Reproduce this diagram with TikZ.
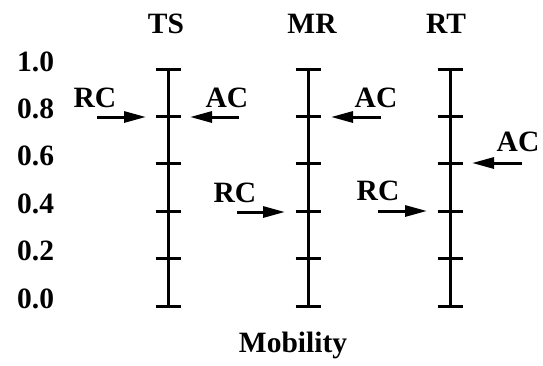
\documentclass[tikz,border=0pt]{standalone}
\usepackage{fontspec}
\setmainfont{Liberation Serif}
\usetikzlibrary{arrows.meta}
\begin{document}
\begin{tikzpicture}[x=1pt,y=-1pt,
  lbl/.style={font=\bfseries\fontsize{29.5}{29.5}\selectfont, inner sep=0pt, anchor=base},
  vlbl/.style={lbl, anchor=base west},
  axisline/.style={line width=3pt},
  arr/.style={line width=3pt, -{Triangle[length=22pt,width=11pt]}}]
\useasboundingbox (0,0) rectangle (543,365);
% value labels
\foreach \k/\v in {0/0.0,1/0.2,2/0.4,3/0.6,4/0.8,5/1.0}
  \node[vlbl] (v\k) at (17,{308-47.4*\k}) {\v};
% axes with ticks
\foreach \n/\x in {TS/168,MR/308,RT/450}{
  \coordinate (\n0) at (\x,306);
  \coordinate (\n5) at (\x,{306-47.4*5});
  \draw[axisline] (\n0) -- (\n5);
  \foreach \k in {0,...,5}
    \draw[axisline] ({\x-12.5},{306-47.4*\k}) -- ({\x+12.5},{306-47.4*\k});
}
% titles
\node[lbl] (tTS) at (166,33) {TS};
\node[lbl] (tMR) at (312,33) {MR};
\node[lbl] (tRT) at (446,33) {RT};
% arrows
\coordinate (a1s) at (97,117);  \coordinate (a1e) at (146,117);
\coordinate (a2s) at (239,117); \coordinate (a2e) at (190,117);
\coordinate (a3s) at (381,117); \coordinate (a3e) at (331,117);
\coordinate (a4s) at (237,212); \coordinate (a4e) at (285,212);
\coordinate (a5s) at (378,211); \coordinate (a5e) at (427,211);
\coordinate (a6s) at (522,163); \coordinate (a6e) at (472,163);
\draw[arr] (a1s) -- (a1e);
\draw[arr] (a2s) -- (a2e);
\draw[arr] (a3s) -- (a3e);
\draw[arr] (a4s) -- (a4e);
\draw[arr] (a5s) -- (a5e);
\draw[arr] (a6s) -- (a6e);
% arrow labels
\node[lbl] (l1) at (95,107) {RC};
\node[lbl] (l2) at (227,107) {AC};
\node[lbl] (l3) at (376,107) {AC};
\node[lbl] (l4) at (235,202) {RC};
\node[lbl] (l5) at (378,200) {RC};
\node[lbl] (l6) at (518,151) {AC};
% axis title
\node[lbl] (mob) at (293,352) {Mobility};
\end{tikzpicture}
\end{document}
